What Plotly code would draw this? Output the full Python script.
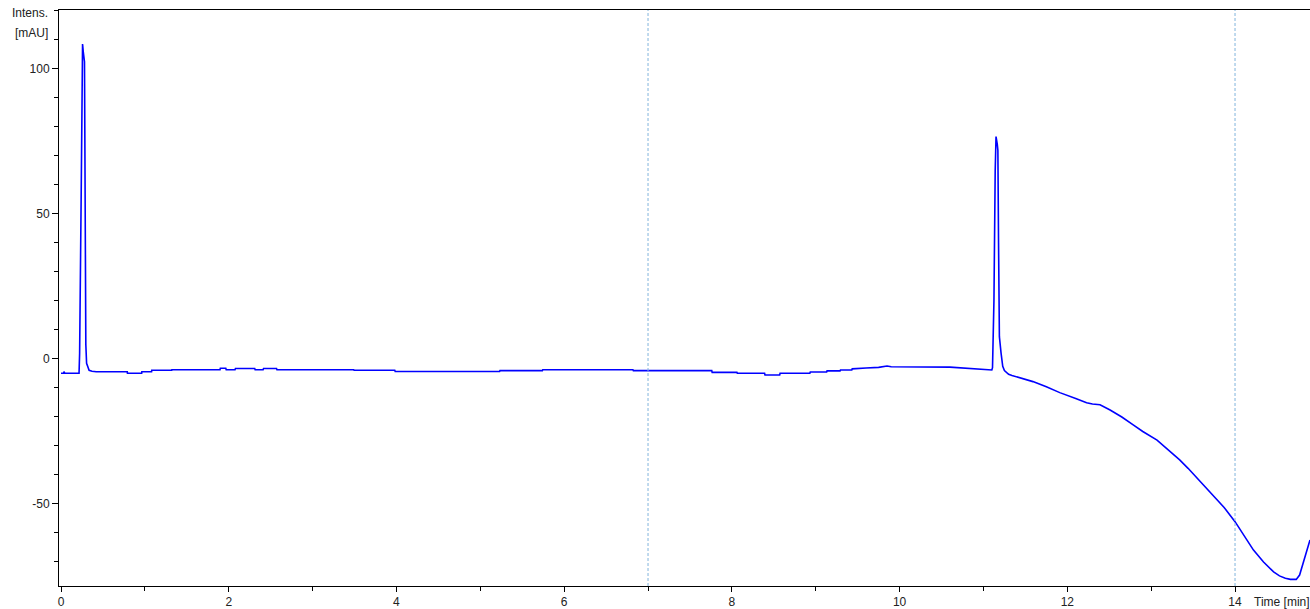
import plotly.graph_objects as go

# ---- data ----
time_min = [
    0.000, 0.030, 0.035, 0.045, 0.215, 0.222, 0.240, 0.257, 0.265, 0.280,
    0.285, 0.290, 0.296, 0.305, 0.320, 0.335, 0.370, 0.420,
    0.790, 0.792, 0.962, 0.964, 1.080, 1.082, 1.320, 1.322, 1.896, 1.900,
    1.965, 1.970, 2.075, 2.080, 2.310, 2.315, 2.410, 2.415, 2.570, 2.575,
    3.490, 3.495, 3.980, 3.985, 5.230, 5.235, 5.740, 5.745, 6.820, 6.825,
    7.760, 7.765, 8.060, 8.065, 8.390, 8.395, 8.570, 8.575, 8.930, 8.935,
    9.130, 9.135, 9.290, 9.295, 9.430, 9.435, 9.600, 9.750, 9.850, 9.900,
    10.600, 10.800, 11.000, 11.090,
    11.100, 11.108, 11.125, 11.140, 11.150, 11.165, 11.172, 11.180, 11.190,
    11.210, 11.230, 11.250, 11.300, 11.340, 11.590, 11.750, 11.910, 12.100,
    12.230, 12.300, 12.390, 12.510, 12.650, 12.790, 12.900, 13.070, 13.200,
    13.340, 13.440, 13.540, 13.640, 13.740, 13.870, 14.000, 14.100, 14.220,
    14.340, 14.460, 14.530, 14.600, 14.660, 14.730, 14.770, 14.800, 14.850,
    14.894,
]
intensity_mau = [
    -4.9, -4.9, -4.4, -4.9, -4.9, 2.0, 55.0, 108.6, 106.0, 102.5,
    70.0, 40.0, 5.0, -1.5, -3.2, -3.9, -4.2, -4.4,
    -4.4, -4.9, -4.9, -4.4, -4.4, -3.9, -3.9, -3.7, -3.7, -3.2,
    -3.2, -3.7, -3.7, -3.3, -3.3, -3.7, -3.7, -3.3, -3.3, -3.7,
    -3.7, -3.9, -3.9, -4.3, -4.3, -4.0, -4.0, -3.7, -3.7, -4.0,
    -4.0, -4.6, -4.6, -4.9, -4.9, -5.5, -5.5, -4.9, -4.9, -4.5,
    -4.5, -4.1, -4.1, -3.8, -3.8, -3.4, -3.1, -2.9, -2.4, -2.7,
    -2.8, -3.2, -3.5, -3.8,
    -3.8, -3.0, 20.0, 65.0, 76.7, 74.0, 72.0, 40.0, 7.7,
    2.0, -2.5, -4.0, -5.3, -5.7, -7.8, -9.6, -11.6, -13.6,
    -15.1, -15.5, -15.8, -17.6, -20.0, -22.8, -25.0, -28.0, -31.2,
    -34.8, -37.7, -40.8, -43.8, -46.9, -51.2, -56.1, -60.5, -65.9,
    -70.0, -73.4, -74.8, -75.6, -76.0, -76.0, -74.5, -71.6, -67.5,
    -62.4,
]
marker_lines_min = [7, 14]
x_tick_vals = [0, 2, 4, 6, 8, 10, 12, 14]
y_tick_vals = [-50, 0, 50, 100]
y_tick_text = ["-50", "0", "50", "100"]

FONT = "Liberation Sans, Arial, sans-serif"

fig = go.Figure()
fig.add_trace(go.Scatter(
    x=time_min, y=intensity_mau, mode="lines",
    line=dict(color="#0000ff", width=1.6), showlegend=False,
))

for xm in marker_lines_min:
    fig.add_vline(x=xm, line=dict(color="rgb(130,180,220)", width=1, dash="3px,2px"))

fig.update_layout(
    width=1310, height=609,
    margin=dict(l=59, r=0, t=10, b=23),
    paper_bgcolor="white", plot_bgcolor="white",
    font=dict(family=FONT, size=12, color="#222"),
    xaxis=dict(
        range=[-0.024, 14.894], tickvals=x_tick_vals, ticks="outside", ticklen=5,
        tickcolor="#000", showgrid=False, zeroline=False, showline=True,
        linecolor="#000", linewidth=1, mirror=True,
        minor=dict(dtick=1, ticks="outside", ticklen=4, tickcolor="#000"),
        tickfont=dict(family=FONT, size=12, color="#222"),
    ),
    yaxis=dict(
        range=[-78.28, 120.34], tickvals=y_tick_vals, ticktext=y_tick_text,
        ticks="outside", ticklen=6,
        tickcolor="#000", showgrid=False, zeroline=False, showline=True,
        linecolor="#000", linewidth=1,
        minor=dict(dtick=10, tick0=0, ticks="outside", ticklen=4, tickcolor="#000"),
        tickfont=dict(family=FONT, size=12, color="#222"),
    ),
    annotations=[
        dict(text="Intens.", xref="paper", yref="paper", x=0, y=0.9948,
             xanchor="right", yanchor="middle", xshift=-9, showarrow=False,
             font=dict(family=FONT, size=12, color="#222")),
        dict(text="[mAU]", xref="paper", yref="paper", x=0, y=0.96,
             xanchor="right", yanchor="middle", xshift=-9, showarrow=False,
             font=dict(family=FONT, size=12, color="#222")),
        dict(text="Time [min]", xref="x", yref="paper", x=14.2, y=0,
             xanchor="left", yanchor="middle", yshift=-15.5, showarrow=False,
             font=dict(family=FONT, size=12, color="#222")),
    ],
)

fig.write_html("out.html")
